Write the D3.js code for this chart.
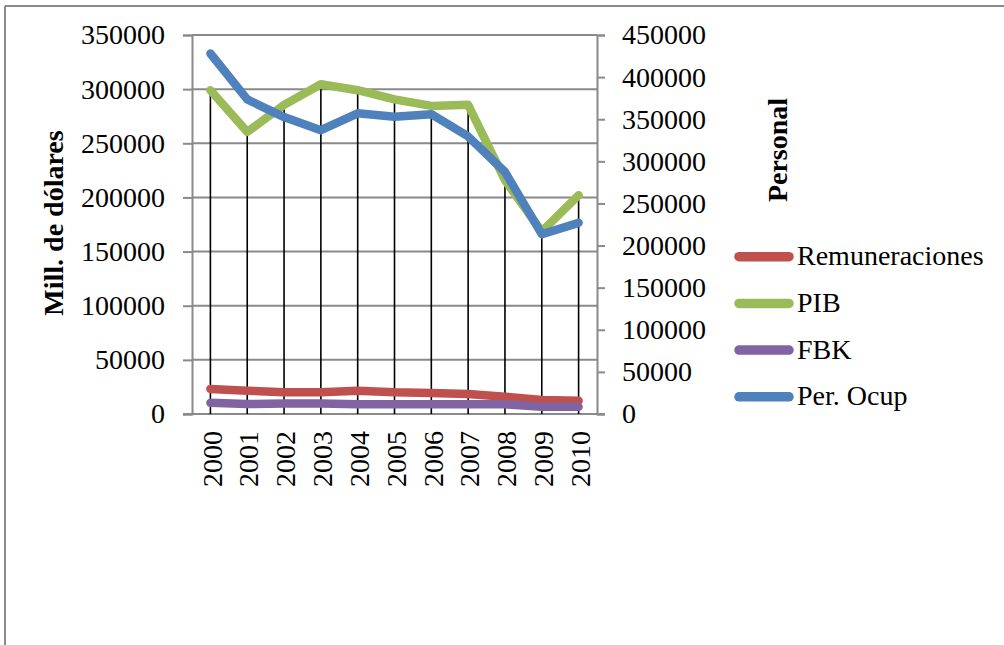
<!DOCTYPE html>
<html>
<head>
<meta charset="utf-8">
<script src="https://cdn.jsdelivr.net/npm/d3@7"></script>
<style>
  html, body { margin: 0; padding: 0; background: #fff; }
  svg { display: block; font-family: "Liberation Serif", "Times New Roman", serif; }
</style>
</head>
<body>
<svg id="chart" width="1004" height="645"></svg>
<script>
// Years on the category axis
const years = ["2000","2001","2002","2003","2004","2005","2006","2007","2008","2009","2010"];

// Primary axis series (millones de dólares)
const remuneraciones = [23100, 21500, 20000, 20000, 21500, 20000, 19400, 18500, 16000, 12900, 12300];
const pib            = [299000, 260500, 285500, 304500, 299000, 290500, 284500, 285500, 216000, 168500, 202000];
const fbk            = [10400, 9200, 9800, 9800, 8900, 8900, 8900, 8900, 8900, 6800, 6800];

// Secondary axis series (personal ocupado)
const perOcup        = [428000, 373500, 352500, 337000, 357000, 353000, 356000, 329500, 287500, 213500, 227000];

// Tick values for both value axes
const leftTicks  = [0, 50000, 100000, 150000, 200000, 250000, 300000, 350000];
const rightTicks = [0, 50000, 100000, 150000, 200000, 250000, 300000, 350000, 400000, 450000];

const seriesNames  = ["Remuneraciones", "PIB", "FBK", "Per. Ocup"];
const seriesColors = ["#C0504D", "#9BBB59", "#8064A2", "#4F81BD"];

const svg = d3.select("#chart");
const plot = { left: 192, right: 597, top: 35, bottom: 414 };
const gridColor = "#8a8a8a";
const fontSize = 28;

// Outer chart frame (only left and top edges fall inside the page)
svg.append("line").attr("x1", 5).attr("x2", 5).attr("y1", 6).attr("y2", 645)
  .attr("stroke", gridColor).attr("stroke-width", 2);
svg.append("line").attr("x1", 5).attr("x2", 1004).attr("y1", 6).attr("y2", 6)
  .attr("stroke", gridColor).attr("stroke-width", 2);

const x = d3.scaleBand().domain(years).range([plot.left, plot.right]);
const xc = d => x(d) + x.bandwidth() / 2;
const yL = d3.scaleLinear().domain([0, 350000]).range([plot.bottom, plot.top]);
const yR = d3.scaleLinear().domain([0, 450000]).range([plot.bottom, plot.top]);

// Horizontal gridlines
svg.append("g").selectAll("line").data(leftTicks.slice(1)).join("line")
  .attr("x1", plot.left).attr("x2", plot.right)
  .attr("y1", d => yL(d)).attr("y2", d => yL(d))
  .attr("stroke", gridColor).attr("stroke-width", 2);

// Left value axis
const gL = svg.append("g").attr("transform", `translate(${plot.left},0)`)
  .call(d3.axisLeft(yL).tickValues(leftTicks).tickSize(9).tickPadding(18).tickFormat(d3.format("d")));
gL.select(".domain").attr("stroke", gridColor).attr("stroke-width", 2);
gL.selectAll(".tick line").attr("stroke", gridColor).attr("stroke-width", 2);
gL.selectAll(".tick text").attr("font-size", fontSize).attr("fill", "#000")
  .attr("font-family", "Liberation Serif");

// Right value axis
const gR = svg.append("g").attr("transform", `translate(${plot.right},0)`)
  .call(d3.axisRight(yR).tickValues(rightTicks).tickSize(8).tickPadding(17).tickFormat(d3.format("d")));
gR.select(".domain").attr("stroke", gridColor).attr("stroke-width", 2);
gR.selectAll(".tick line").attr("stroke", gridColor).attr("stroke-width", 2);
gR.selectAll(".tick text").attr("font-size", fontSize).attr("fill", "#000")
  .attr("font-family", "Liberation Serif");

// Category axis
const gX = svg.append("g").attr("transform", `translate(0,${plot.bottom})`)
  .call(d3.axisBottom(x).tickSize(0).tickPadding(0));
gX.select(".domain").attr("stroke", gridColor).attr("stroke-width", 2)
  .attr("d", `M${plot.left - 9},0H${plot.right + 8}`);
gX.selectAll(".tick text")
  .attr("font-size", fontSize).attr("fill", "#000").attr("font-family", "Liberation Serif")
  .attr("text-anchor", "end")
  .attr("transform", "translate(2,17) rotate(-90)")
  .attr("x", 0).attr("y", 0).attr("dy", "0.33em");

// Drop lines from the highest primary series down to the category axis
svg.append("g").selectAll("line").data(years).join("line")
  .attr("x1", d => xc(d)).attr("x2", d => xc(d))
  .attr("y1", (d, i) => yL(Math.max(pib[i], remuneraciones[i], fbk[i])))
  .attr("y2", plot.bottom)
  .attr("stroke", "#000").attr("stroke-width", 1.6);

// Series lines
const lineL = d3.line().x((d, i) => xc(years[i])).y(d => yL(d));
const lineR = d3.line().x((d, i) => xc(years[i])).y(d => yR(d));
const series = [
  { data: remuneraciones, line: lineL, color: seriesColors[0] },
  { data: fbk,            line: lineL, color: seriesColors[2] },
  { data: pib,            line: lineL, color: seriesColors[1] },
  { data: perOcup,        line: lineR, color: seriesColors[3] }
];
svg.append("g").selectAll("path").data(series).join("path")
  .attr("d", s => s.line(s.data))
  .attr("fill", "none")
  .attr("stroke", s => s.color)
  .attr("stroke-width", 8.5)
  .attr("stroke-linecap", "round")
  .attr("stroke-linejoin", "round");

// Axis titles
svg.append("text")
  .attr("transform", "translate(63,223) rotate(-90)")
  .attr("text-anchor", "middle")
  .attr("font-size", fontSize).attr("font-weight", "bold")
  .text("Mill. de dólares");
svg.append("text")
  .attr("transform", "translate(787,150) rotate(-90)")
  .attr("text-anchor", "middle")
  .attr("font-size", fontSize).attr("font-weight", "bold")
  .text("Personal");

// Legend
const legend = svg.append("g").selectAll("g").data(seriesNames).join("g")
  .attr("transform", (d, i) => `translate(0,${256.7 + i * 46.7})`);
legend.append("line")
  .attr("x1", 739).attr("x2", 789).attr("y1", 0).attr("y2", 0)
  .attr("stroke", (d, i) => seriesColors[i])
  .attr("stroke-width", 9.5).attr("stroke-linecap", "round");
legend.append("text")
  .attr("x", 797).attr("y", 8.5)
  .attr("font-size", fontSize)
  .text(d => d);
</script>
</body>
</html>
